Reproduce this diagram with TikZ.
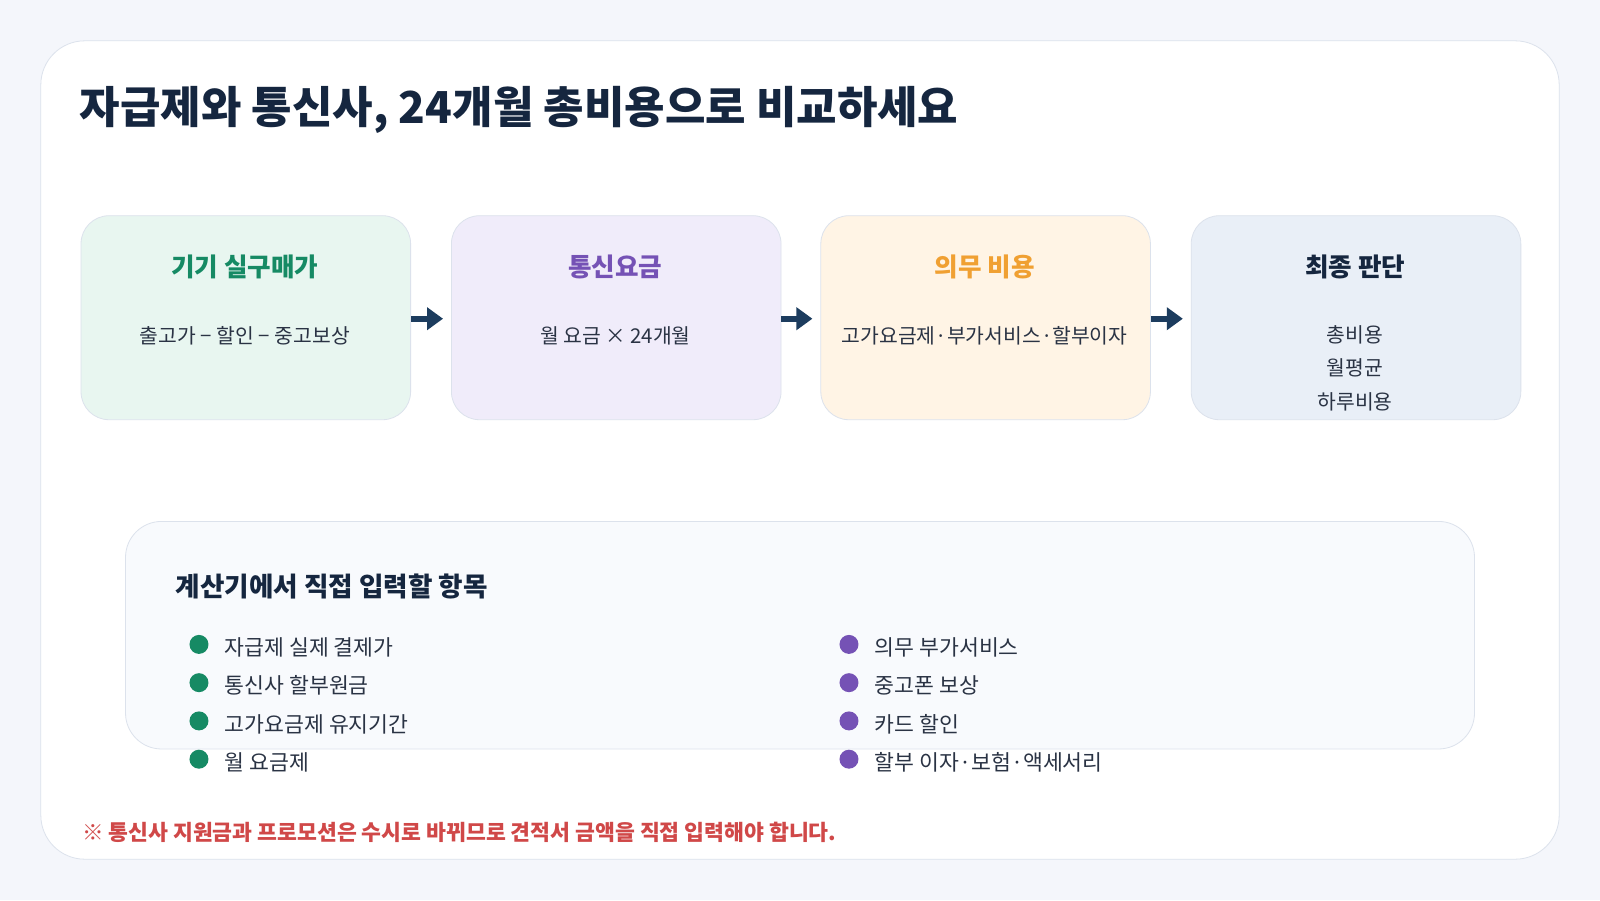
\documentclass[tikz,border=0pt]{standalone}
\usepackage{fontspec}
\setmainfont{Noto Sans CJK KR}
\usetikzlibrary{positioning,arrows.meta}
\definecolor{bgc}{HTML}{F4F6FB}
\definecolor{edgec}{HTML}{DCE2EC}
\definecolor{navy}{HTML}{15263F}
\definecolor{arrc}{HTML}{1C3C5E}
\definecolor{grnf}{HTML}{E8F6F0}
\definecolor{grnt}{HTML}{168A64}
\definecolor{purf}{HTML}{F0ECFA}
\definecolor{purt}{HTML}{7552B5}
\definecolor{orgf}{HTML}{FFF4E5}
\definecolor{orgt}{HTML}{F0A032}
\definecolor{bluf}{HTML}{E9EFF7}
\definecolor{redt}{HTML}{D04848}
\definecolor{txtc}{HTML}{2A3344}
\tikzset{
  stage/.style={draw=edgec, rounded corners=14pt, minimum width=164.8pt, minimum height=102pt, anchor=north west, inner sep=0pt},
  head/.style={font=\fontsize{12.8}{15}\selectfont\bfseries},
  body/.style={font=\fontsize{10.2}{16.8}\selectfont, text=txtc, align=center},
  flow/.style={-{Triangle[length=8pt,width=11pt]}, line width=3pt, arrc},
  dot/.style={circle, inner sep=0pt, minimum size=9.5pt},
  item/.style={font=\fontsize{10.8}{12}\selectfont, text=txtc, anchor=west, inner sep=0pt}
}
\begin{document}
\begin{tikzpicture}[x=0.5102pt,y=-0.5102pt]
\useasboundingbox (0,0) rectangle (1568,882);
\fill[bgc] (0,0) rectangle (1568,882);
% Karte
\draw[edgec, fill=white, rounded corners=22pt] (40,40) rectangle (1528,842);
\node[anchor=west, inner sep=0pt, text=navy, font=\fontsize{22}{25}\selectfont\bfseries] (title) at (78,108) {자급제와 통신사, 24개월 총비용으로 비교하세요};
% Schritte
\node[stage, fill=grnf] (s1) at (79,211) {};
\node[stage, fill=purf] (s2) at (442,211) {};
\node[stage, fill=orgf] (s3) at (804,211) {};
\node[stage, fill=bluf] (s4) at (1167,211) {};
\node[head, text=grnt] (h1) at (240,262) {기기 실구매가};
\node[head, text=purt] (h2) at (603,262) {통신요금};
\node[head, text=orgt] (h3) at (965,262) {의무 비용};
\node[head, text=navy] (h4) at (1328,262) {최종 판단};
\node[body] (b1) at (240,329) {출고가 − 할인 − 중고보상};
\node[body] (b2) at (603,329) {월 요금 × 24개월};
\node[body] (b3) at (965,329) {고가요금제·부가서비스·할부이자};
\node[body, anchor=north] (b4) at (1328,312) {총비용\\월평균\\하루비용};
% Pfeile
\foreach \a/\b in {s1/s2, s2/s3, s3/s4}
  \draw[flow] ([yshift=-0.5pt]\a.east) -- ([xshift=-4pt,yshift=-0.5pt]\b.west);
% Eingabe
\draw[edgec, fill=bgc!60!white, rounded corners=18pt] (123,511) rectangle (1445,734);
\node[anchor=west, inner sep=0pt, text=navy, font=\fontsize{13.3}{15}\selectfont\bfseries] (sub) at (172,575) {계산기에서 직접 입력할 항목};
\foreach \t [count=\i] in {자급제 실제 결제가, 통신사 할부원금, 고가요금제 유지기간, 월 요금제} {
  \node[dot, fill=grnt] (g\i) at (195,594+37.5*\i) {};
  \node[item] (gt\i) at (220,597+37.5*\i) {\t};
}
\foreach \t [count=\i] in {의무 부가서비스, 중고폰 보상, 카드 할인, 할부 이자·보험·액세서리} {
  \node[dot, fill=purt] (p\i) at (832,594+37.5*\i) {};
  \node[item] (pt\i) at (857,597+37.5*\i) {\t};
}
\node[anchor=west, inner sep=0pt, text=redt, font=\fontsize{10.8}{13}\selectfont\bfseries] (note) at (80,816) {※ 통신사 지원금과 프로모션은 수시로 바뀌므로 견적서 금액을 직접 입력해야 합니다.};
\end{tikzpicture}
\end{document}
